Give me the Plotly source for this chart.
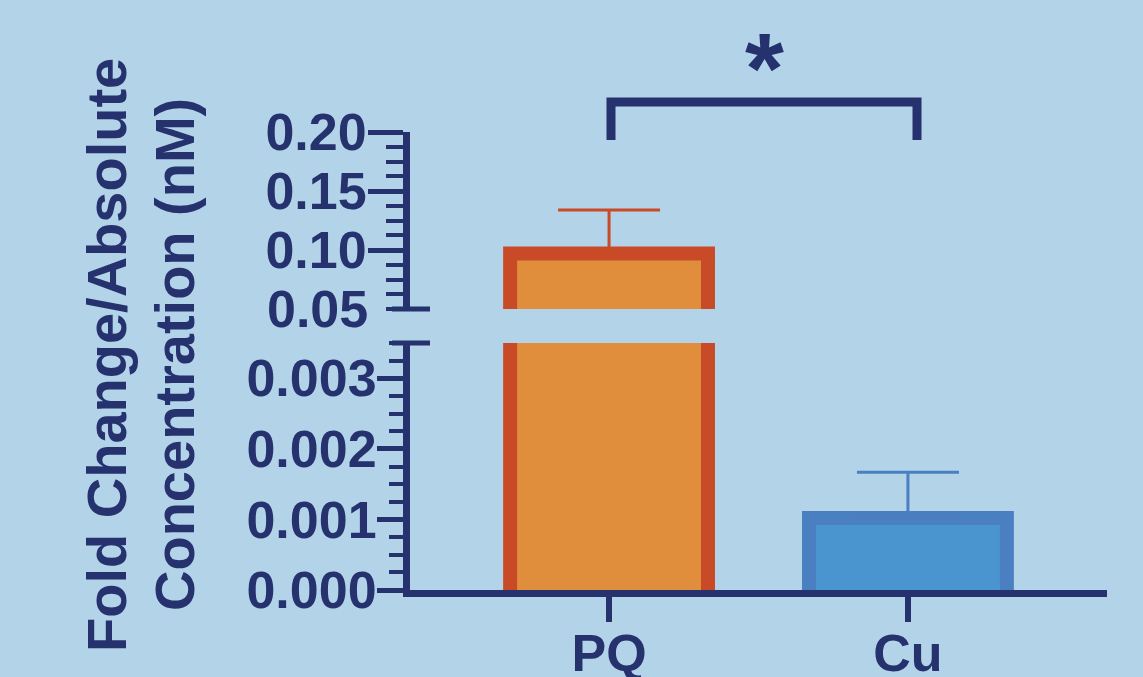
import plotly.graph_objects as go

# ---------------- data ----------------
categories = ["PQ", "Cu"]
means = [0.097, 0.00102]
errors = [0.037, 0.00065]

lower_tickvals = [0.000, 0.001, 0.002, 0.003]
upper_tickvals = [0.10, 0.15, 0.20]
upper_bottom_label = "0.05"
lower_range = [0.0, 0.0035]
upper_range = [0.05, 0.20]
y_title_lines = ["Fold Change/Absolute", "Concentration (nM)"]
significance = "*"

# ---------------- style ----------------
W, H = 1143, 677
NAVY = "#25326E"
BG = "#B3D3E9"
border_colors = ["#C94A27", "#4A7FC1"]
fill_colors = ["#E08E3C", "#4A95D0"]
FONT = "Liberation Sans, Arial, sans-serif"


def px(xp):
    return xp / W


def py(yp):
    return 1 - yp / H


x_dom = [px(410), px(1107)]
lower_dom = [py(590), py(343)]
upper_dom = [py(309), py(132)]

fig = go.Figure()

segments = [("y", lower_range, 0.0001), ("y2", upper_range, 0.0001)]
for yname, rng, base_off in segments:
    for i, cat in enumerate(categories):
        show_err = rng[0] <= means[i] <= rng[1]
        fig.add_trace(go.Bar(
            x=[cat], y=[means[i] + base_off], base=[-base_off],
            yaxis=yname, xaxis="x",
            width=0.662,
            marker=dict(color=fill_colors[i],
                        line=dict(color=border_colors[i], width=14)),
            error_y=dict(type="data", symmetric=False, array=[errors[i]],
                         arrayminus=[0], visible=show_err,
                         color=border_colors[i], thickness=3, width=51),
            showlegend=False, hoverinfo="skip",
        ))

tickfont = dict(family=FONT, size=52, color=NAVY, weight="bold")

fig.update_layout(
    template="none",
    width=W, height=H, autosize=False,
    margin=dict(l=0, r=0, t=0, b=0, pad=0),
    paper_bgcolor=BG, plot_bgcolor="rgba(0,0,0,0)",
    barmode="overlay",
    xaxis=dict(domain=x_dom, anchor="y", range=[-0.666, 1.666],
               type="category", showline=True, linewidth=7, linecolor=NAVY,
               ticks="outside", ticklen=25, tickwidth=6, tickcolor=NAVY,
               tickfont=tickfont, ticklabelstandoff=-13,
               showgrid=False, zeroline=False,
               automargin=False, fixedrange=True),
    yaxis=dict(domain=lower_dom, anchor="x", range=lower_range,
               showline=True, linewidth=7, linecolor=NAVY,
               tickvals=lower_tickvals, tickformat=".3f",
               ticks="outside", ticklen=26, tickwidth=5, tickcolor=NAVY,
               minor=dict(dtick=0.00025, ticks="outside", ticklen=14,
                          tickwidth=4, tickcolor=NAVY, showgrid=False),
               tickfont=tickfont, ticklabelstandoff=-10,
               showgrid=False, zeroline=False, automargin=False),
    yaxis2=dict(domain=upper_dom, anchor="x", range=upper_range,
                showline=True, linewidth=7, linecolor=NAVY,
                tickvals=upper_tickvals, tickformat=".2f",
                ticks="outside", ticklen=35, tickwidth=5, tickcolor=NAVY,
                minor=dict(dtick=0.0125, ticks="outside", ticklen=17,
                           tickwidth=4, tickcolor=NAVY, showgrid=False),
                tickfont=tickfont, ticklabelstandoff=-9,
                showgrid=False, zeroline=False, automargin=False),
)

# break caps
fig.add_shape(type="line", xref="paper", yref="paper",
              x0=px(392), x1=px(430), y0=upper_dom[0], y1=upper_dom[0],
              line=dict(color=NAVY, width=5))
fig.add_shape(type="line", xref="paper", yref="paper",
              x0=px(392), x1=px(430), y0=lower_dom[1], y1=lower_dom[1],
              line=dict(color=NAVY, width=5))

# bottom label of the upper segment
fig.add_annotation(x=px(370), y=upper_dom[0], xref="paper", yref="paper",
                   text=upper_bottom_label, showarrow=False,
                   xanchor="right", yanchor="middle", font=tickfont)

# y-axis title (two lines)
title_font = dict(family=FONT, size=56, color=NAVY, weight="bold")
for line, xc in zip(y_title_lines, [px(106), px(174)]):
    fig.add_annotation(x=xc, y=py(355), xref="paper", yref="paper",
                       text=line, textangle=-90, showarrow=False,
                       xanchor="center", yanchor="middle", font=title_font)

# significance bracket
fig.add_shape(type="path", xref="paper", yref="paper",
              path=f"M {px(611)} {py(140)} L {px(611)} {py(102)} "
                   f"L {px(917)} {py(102)} L {px(917)} {py(140)}",
              line=dict(color=NAVY, width=9))
fig.add_annotation(x=px(764), y=py(68), xref="paper", yref="paper",
                   text=significance, showarrow=False,
                   xanchor="center", yanchor="middle",
                   font=dict(family=FONT, size=100, color=NAVY, weight="bold"))

fig.write_html("out.html", config={"displayModeBar": False},
               post_script="document.body.style.margin='0';"
                           "document.documentElement.style.overflow='hidden';")
